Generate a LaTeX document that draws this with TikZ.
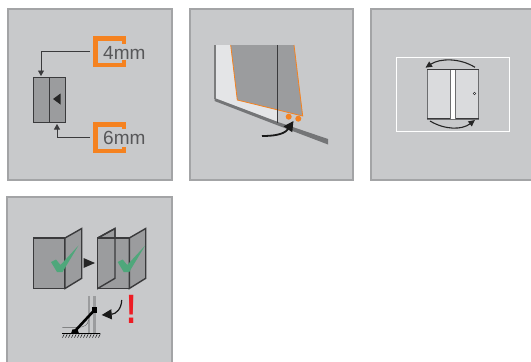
\documentclass[tikz,border=0pt]{standalone}
\usepackage{fontspec}
\setmainfont{Liberation Sans}
\usetikzlibrary{arrows.meta}
\definecolor{panelbg}{HTML}{C8C9CB}
\definecolor{panelbd}{HTML}{A3A4A6}
\definecolor{org}{HTML}{F58220}
\definecolor{dk}{HTML}{3A3A3C}
\definecolor{gmid}{HTML}{9B9C9E}
\definecolor{glight}{HTML}{E4E5E7}
\definecolor{gdoor}{HTML}{DADBDD}
\definecolor{chk}{HTML}{4FA77B}
\definecolor{excl}{HTML}{ED1C24}
\tikzset{
 panel/.style={fill=panelbg,draw=panelbd,line width=2pt},
 brack/.style={draw=org,line width=4.4pt,miter limit=10},
 lbl/.style={text=dk!85,font=\fontsize{19}{19}\selectfont,inner sep=0pt,anchor=base west},
 lead/.style={draw=dk,line width=.9pt,-{Triangle[length=5.5pt,width=6pt]}},
 leaf/.style={draw=dk,line width=1.4pt,fill=gmid,line join=miter},
 curve/.style={draw=black!85,line width=1.1pt,-{Triangle[length=6.5pt,width=6pt]}},
 bigcurve/.style={draw=black!90,line width=1.8pt,-{Triangle[length=10pt,width=10pt]}},
}
\begin{document}
\begin{tikzpicture}[x=1pt,y=-1pt]
\useasboundingbox (0,0) rectangle (531,362);
\fill[white] (0,0) rectangle (531,362);
% panels
\draw[panel] (8,9) rectangle (171.5,180);
\draw[panel] (189.5,9) rectangle (353,180);
\draw[panel] (371,9) rectangle (535,180);
\draw[panel] (7,197) rectangle (172,366);
% panel 1
\draw[brack] (124,43.5) -- (124,38.5) -- (95.5,38.5) -- (95.5,64.8) -- (124,64.8) -- (124,60);
\draw[brack] (124,128.5) -- (124,124.3) -- (95.5,124.3) -- (95.5,150.8) -- (124,150.8) -- (124,146.5);
\node[lbl] (t4) at (103,59) {4mm};
\node[lbl] (t6) at (103,144.5) {6mm};
\draw[fill=gmid,draw=dk,line width=1pt] (33,77) rectangle (65,122.5);
\draw[draw=dk,line width=1pt] (49,77) -- (49,122.5);
\fill[black!85] (53,99) -- (60.5,93.5) -- (60.5,104.5) -- cycle;
\coordinate (a1) at (90,51.5);
\coordinate (a2) at (41,76);
\draw[lead] (a1) -- (41,51.5) -- (a2);
\coordinate (b1) at (90,137.5);
\coordinate (b2) at (57,124);
\draw[lead] (b1) -- (57,137.5) -- (b2);
% panel 2
\fill[glight] (215,45) -- (277.5,45) -- (277.5,122) -- (215,98) -- cycle;
\fill[gmid] (230.7,45) -- (294,45) -- (302.7,116) -- (237.3,100) -- cycle;
\draw[org,line width=.8pt] (230.7,45) -- (237.3,100) -- (302.7,116) -- (294,45);
\draw[gmid!80!black,line width=1.4pt] (215,45) -- (215,99);
\fill[gmid!75!black] (214.5,98) -- (278,122) -- (328,139) -- (328,144.5) -- (278,125.5) -- (214.5,101) -- cycle;
\draw[dk,line width=.6pt] (277.5,45) -- (277.5,123);
\fill[org] (288.7,116.7) circle (3pt);
\fill[org] (298.3,118.7) circle (3pt);
\coordinate (c1) at (262,136);
\coordinate (c2) at (293.5,121);
\draw[bigcurve] (c1) .. controls (272,136) and (284,135) .. (c2);
% panel 3
\draw[white,line width=.9pt] (396.3,57.5) rectangle (509,131);
\fill[gdoor] (427,69.5) rectangle (478.7,119);
\draw[gmid!70!black,line width=.8pt] (427,69.5) rectangle (478.7,119);
\draw[dk,line width=.6pt] (427,69.5) -- (478.7,69.5);
\draw[dk,line width=.9pt] (427,118.7) -- (478.7,118.7);
\fill[white] (450.5,70) rectangle (455.5,119);
\draw[gmid!70!black,line width=.6pt] (450.5,70) -- (450.5,119) (455.5,70) -- (455.5,119);
\draw[dk,line width=.5pt,fill=white] (474.5,93.5) circle (1.2pt);
\coordinate (d1) at (475,67.3);
\coordinate (d2) at (425.5,67.7);
\draw[curve] (d1) .. controls (460,58) and (440,58) .. (d2);
\coordinate (e1) at (430,121);
\coordinate (e2) at (475,120);
\draw[curve] (e1) .. controls (445,130) and (462,130) .. (e2);
% panel 4
\draw[leaf] (33.5,238) rectangle (65,288.5);
\draw[leaf] (65,238) -- (81.7,228.5) -- (81.7,278.3) -- (65,288.5) -- cycle;
\draw[leaf] (97.7,238) -- (115,228.5) -- (115,278.3) -- (97.7,288.5) -- cycle;
\draw[leaf] (97.7,238) rectangle (129.3,288.5);
\draw[leaf] (129.3,238) -- (145.7,228.5) -- (145.7,278.3) -- (129.3,288.5) -- cycle;
\draw[dk,line width=1.4pt] (97.7,238) -- (115,228.5) -- (115,278.3) -- (97.7,288.5);
\fill[black!85] (95,263) -- (83.5,258) -- (83.5,268) -- cycle;
\foreach \dx in {0,66.7}{
 \fill[chk,xshift=\dx pt] (51,262) -- (56,259.5) -- (60.5,265) -- (78.5,245.5) -- (62.5,272) -- (57,272) -- cycle;
}
\node[text=excl,font=\bfseries\fontsize{41}{41}\selectfont,inner sep=0pt,anchor=base] (ex) at (131.2,323.5) {\scalebox{.75}[1]{!}};
% hinge detail
\fill[gmid] (88.3,296) rectangle (90,333);
\fill[gmid] (92.7,296) rectangle (96,333);
\draw[gmid!60!black,line width=.4pt] (62.3,327.3) -- (78,327.3) .. controls (84,327.3) and (88,325) .. (88.5,320);
\draw[black,line width=.8pt] (62.3,333.5) -- (100,333.5);
\foreach \hx in {62.5,65.5,...,98.5}{
 \draw[black,line width=.4pt] (\hx+2,333.5) -- (\hx,337.7);
}
\coordinate (h1) at (75,331);
\coordinate (h2) at (94.5,310);
\draw[black,line width=2.6pt] (h1) -- (h2);
\fill[black] (92.3,307.3) rectangle (96.7,313.3);
\fill[black] (71,333.5) -- (72.5,329.3) -- (77.5,329.3) -- (79,333.5) -- cycle;
\coordinate (k1) at (121.7,300);
\coordinate (k2) at (101.7,315);
\draw[draw=black!90,line width=1.2pt,-{Triangle[length=10pt,width=10pt]}] (k1) .. controls (121.5,309) and (116,314) .. (k2);
\end{tikzpicture}
\end{document}
